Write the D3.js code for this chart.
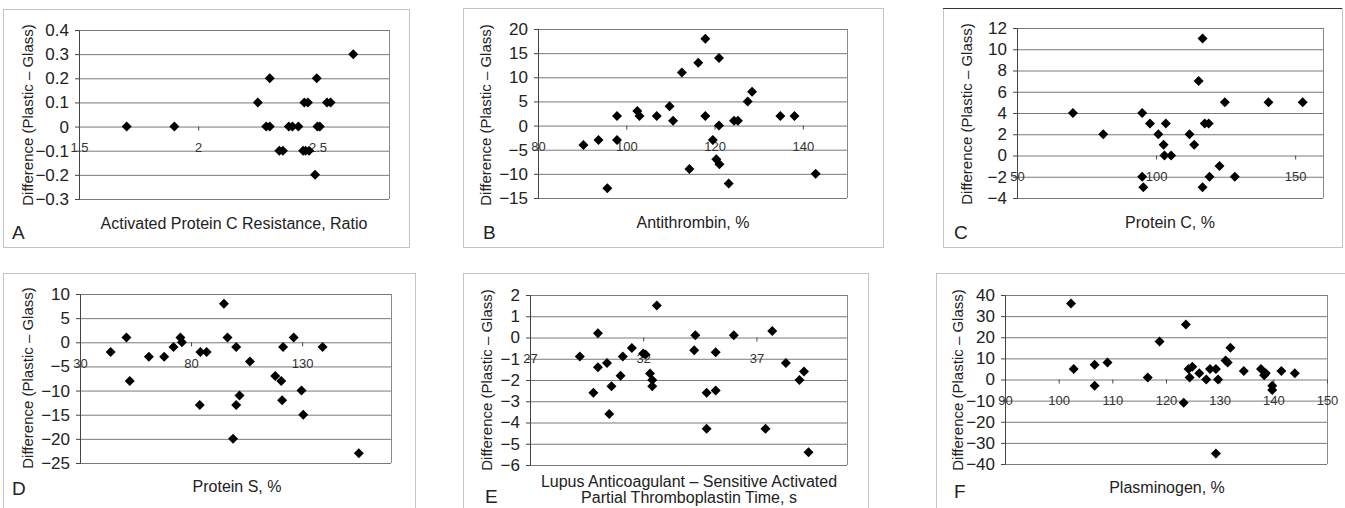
<!DOCTYPE html>
<html>
<head>
<meta charset="utf-8">
<script src="https://cdn.jsdelivr.net/npm/d3@7"></script>
<style>
  body { margin: 0; background: #fff; }
  svg { display: block; font-family: "Liberation Sans", Arial, sans-serif; }
  .grid line { stroke: #7a7a7a; stroke-width: 1; }
  .grid path { display: none; }
  .yaxis path, .yaxis line, .xaxis line { stroke: #444; }
  .xaxis path { display: none; }
  .yaxis text { font-size: 17px; fill: #222; }
  .xaxis text { font-size: 13px; fill: #333; }
</style>
</head>
<body>
<svg id="chart" width="1345" height="508"></svg>
<script>
// A - activated protein C resistance
const apcrX = [1.70, 1.90, 2.25, 2.30, 2.285, 2.30, 2.34, 2.355, 2.38, 2.395, 2.42, 2.445, 2.46, 2.44, 2.45, 2.465, 2.497, 2.50, 2.51, 2.49, 2.54, 2.555, 2.65];
const apcrY = [0, 0, 0.1, 0.2, 0, 0, -0.1, -0.1, 0, 0, 0, 0.1, 0.1, -0.1, -0.1, -0.1, 0.2, 0, 0, -0.2, 0.1, 0.1, 0.3];

// B - antithrombin
const atX = [90.3, 93.7, 95.7, 97.9, 97.9, 102.5, 103, 106.9, 109.8, 110.6, 112.6, 114.3, 116.3, 117.9, 117.9, 119.6, 120.4, 121.1, 121, 121, 123.2, 124.4, 125.3, 127.5, 128.5, 134.9, 138.1, 142.9];
const atY = [-4, -3, -13, 2, -3, 3, 2, 2, 4, 1, 11, -9, 13, 18, 2, -3, -7, -8, 14, 0, -12, 1, 1, 5, 7, 2, 2, -10];

// C - protein C
const pcX = [70.1, 81, 95, 95, 95.4, 97.8, 100.8, 102.7, 103.5, 103, 105.4, 112, 113.7, 115.3, 116.7, 116.7, 117.5, 118.9, 119.2, 122.8, 124.7, 128.3, 140.4, 152.7];
const pcY = [4, 2, 4, -2, -3, 3, 2, 1, 3, 0, 0, 2, 1, 7, 11, -3, 3, 3, -2, -1, 5, -2, 5, 5];

// D - protein S
const psX = [43.8, 50.9, 52.4, 61, 67.9, 72.1, 75.2, 75.9, 84.2, 87, 83.9, 94.8, 96.4, 98.9, 100.3, 100.3, 101.8, 106.5, 117.9, 120.6, 121.4, 121, 126.2, 129.7, 130.5, 139.2, 155.5];
const psY = [-2, 1, -8, -3, -3, -1, 1, 0, -2, -2, -13, 8, 1, -20, -1, -13, -11, -4, -7, -8, -1, -12, 1, -10, -15, -1, -23];

// E - lupus anticoagulant sensitive aPTT
const laX = [29.2, 29.8, 30.0, 30.0, 30.4, 30.5, 30.6, 31.0, 31.1, 31.5, 32.0, 32.1, 32.3, 32.4, 32.4, 32.6, 34.3, 34.25, 34.8, 34.8, 35.2, 35.2, 36.0, 37.4, 37.7, 38.3, 38.9, 39.1, 39.3];
const laY = [-0.9, -2.6, 0.2, -1.4, -1.2, -3.6, -2.3, -1.8, -0.9, -0.5, -0.75, -0.8, -1.7, -2.0, -2.3, 1.5, 0.1, -0.6, -2.6, -4.3, -0.7, -2.5, 0.1, -4.3, 0.3, -1.2, -2.0, -1.6, -5.4];

// F - plasminogen
const plgX = [102.3, 102.8, 106.7, 106.7, 109.1, 116.6, 118.8, 123.3, 123.7, 124.2, 124.4, 124.9, 126.2, 127.5, 128.2, 129.3, 129.3, 129.7, 131.1, 131.5, 132, 134.5, 137.7, 138.3, 138.6, 139.8, 139.8, 141.5, 144];
const plgY = [36, 5, 7, -3, 8, 1, 18, -11, 26, 5, 1, 6, 3, 0, 5, 5, -35, 0, 9, 8, 15, 4, 5, 2, 3, -3, -5, 4, 3];

// axis ticks
const apcrXTicks = [1.5, 2, 2.5];
const apcrYTicks = [-0.3, -0.2, -0.1, 0, 0.1, 0.2, 0.3, 0.4];
const atXTicks = [80, 100, 120, 140];
const atYTicks = [-15, -10, -5, 0, 5, 10, 15, 20];
const pcXTicks = [50, 100, 150];
const pcYTicks = [-4, -2, 0, 2, 4, 6, 8, 10, 12];
const psXTicks = [30, 80, 130];
const psYTicks = [-25, -20, -15, -10, -5, 0, 5, 10];
const laXTicks = [27, 32, 37];
const laYTicks = [-6, -5, -4, -3, -2, -1, 0, 1, 2];
const plgXTicks = [90, 100, 110, 120, 130, 140, 150];
const plgYTicks = [-40, -30, -20, -10, 0, 10, 20, 30, 40];

const yTitle = "Difference (Plastic \u2013 Glass)";

const panels = [
  { letter: "A", xs: apcrX, ys: apcrY, xTicks: apcrXTicks, yTicks: apcrYTicks,
    xDomain: [1.5, 2.8], frame: [3, 9, 409, 247], plot: [79, 30, 389, 199],
    title: ["Activated Protein C Resistance, Ratio"], titleX: 234, titleY: 229,
    letterXY: [12, 239], yTitleXY: [33, 115] },
  { letter: "B", xs: atX, ys: atY, xTicks: atXTicks, yTicks: atYTicks,
    xDomain: [80, 150], frame: [463, 8, 883, 247], plot: [538, 29, 847, 198],
    title: ["Antithrombin, %"], titleX: 693, titleY: 228,
    letterXY: [483, 239], yTitleXY: [491, 115] },
  { letter: "C", xs: pcX, ys: pcY, xTicks: pcXTicks, yTicks: pcYTicks,
    xDomain: [50, 160], frame: [943, 8, 1342, 247], plot: [1017, 28, 1323, 198],
    title: ["Protein C, %"], titleX: 1170, titleY: 228, darkTop: true,
    letterXY: [954, 239], yTitleXY: [972, 114] },
  { letter: "D", xs: psX, ys: psY, xTicks: psXTicks, yTicks: psYTicks,
    xDomain: [30, 170], frame: [3, 273, 415, 530], plot: [80, 294, 391, 463],
    title: ["Protein S, %"], titleX: 237, titleY: 492,
    letterXY: [12, 495], yTitleXY: [33, 378] },
  { letter: "E", xs: laX, ys: laY, xTicks: laXTicks, yTicks: laYTicks,
    xDomain: [27, 41], frame: [463, 273, 868, 530], plot: [530, 295, 847, 465],
    title: ["Lupus Anticoagulant \u2013 Sensitive Activated", "Partial Thromboplastin Time, s"],
    titleX: 689, titleY: 487, letterXY: [485, 503], yTitleXY: [492, 380] },
  { letter: "F", xs: plgX, ys: plgY, xTicks: plgXTicks, yTicks: plgYTicks,
    xDomain: [90, 150], frame: [936, 273, 1345, 530], plot: [1005, 295, 1327, 464],
    title: ["Plasminogen, %"], titleX: 1167, titleY: 493,
    letterXY: [954, 498], yTitleXY: [963, 380] }
];

const svg = d3.select("#chart");
const fmt = d3.format("~f");
const diamond = d3.symbol(d3.symbolSquare, 50);

panels.forEach(p => {
  const g = svg.append("g");
  const [fx0, fy0, fx1, fy1] = p.frame;
  const [px0, py0, px1, py1] = p.plot;

  // outer frame
  g.append("rect")
    .attr("x", fx0 + 0.5).attr("y", fy0 + 0.5)
    .attr("width", fx1 - fx0).attr("height", fy1 - fy0)
    .attr("fill", "none").attr("stroke", "#c4c4c4");
  if (p.darkTop) {
    g.append("line")
      .attr("x1", fx0).attr("x2", fx1).attr("y1", fy0 + 0.5).attr("y2", fy0 + 0.5)
      .attr("stroke", "#333");
  }

  const x = d3.scaleLinear().domain(p.xDomain).range([px0, px1]);
  const y = d3.scaleLinear().domain(d3.extent(p.yTicks)).range([py1, py0]);

  // horizontal gridlines
  g.append("g").attr("class", "grid")
    .attr("transform", `translate(${px0},0)`)
    .call(d3.axisLeft(y).tickValues(p.yTicks).tickSize(-(px1 - px0)).tickFormat(""));

  // right border of the plot area
  g.append("line")
    .attr("x1", px1 + 0.5).attr("x2", px1 + 0.5).attr("y1", py0).attr("y2", py1)
    .attr("stroke", "#8a8a8a");

  // y axis
  g.append("g").attr("class", "yaxis")
    .attr("transform", `translate(${px0},0)`)
    .call(d3.axisLeft(y).tickValues(p.yTicks).tickSize(4).tickPadding(6).tickFormat(fmt));

  // x axis crossing at y = 0
  g.append("g").attr("class", "xaxis")
    .attr("transform", `translate(0,${y(0)})`)
    .call(d3.axisBottom(x).tickValues(p.xTicks).tickSize(4).tickPadding(12).tickFormat(fmt));

  // points
  g.append("g").selectAll("path")
    .data(d3.zip(p.xs, p.ys))
    .join("path")
    .attr("d", diamond)
    .attr("transform", d => `translate(${x(d[0])},${y(d[1])}) rotate(45)`)
    .attr("fill", "#000");

  // axis titles
  const t = g.append("text")
    .attr("x", p.titleX).attr("y", p.titleY)
    .attr("text-anchor", "middle")
    .attr("font-size", 16).attr("fill", "#222");
  t.selectAll("tspan").data(p.title).join("tspan")
    .attr("x", p.titleX)
    .attr("dy", (d, i) => i === 0 ? 0 : 16)
    .text(d => d);

  g.append("text")
    .attr("transform", `translate(${p.yTitleXY[0]},${p.yTitleXY[1]}) rotate(-90)`)
    .attr("text-anchor", "middle")
    .attr("font-size", 15).attr("fill", "#222")
    .text(yTitle);

  g.append("text")
    .attr("x", p.letterXY[0]).attr("y", p.letterXY[1])
    .attr("font-size", 19).attr("fill", "#222")
    .text(p.letter);
});
</script>
</body>
</html>
